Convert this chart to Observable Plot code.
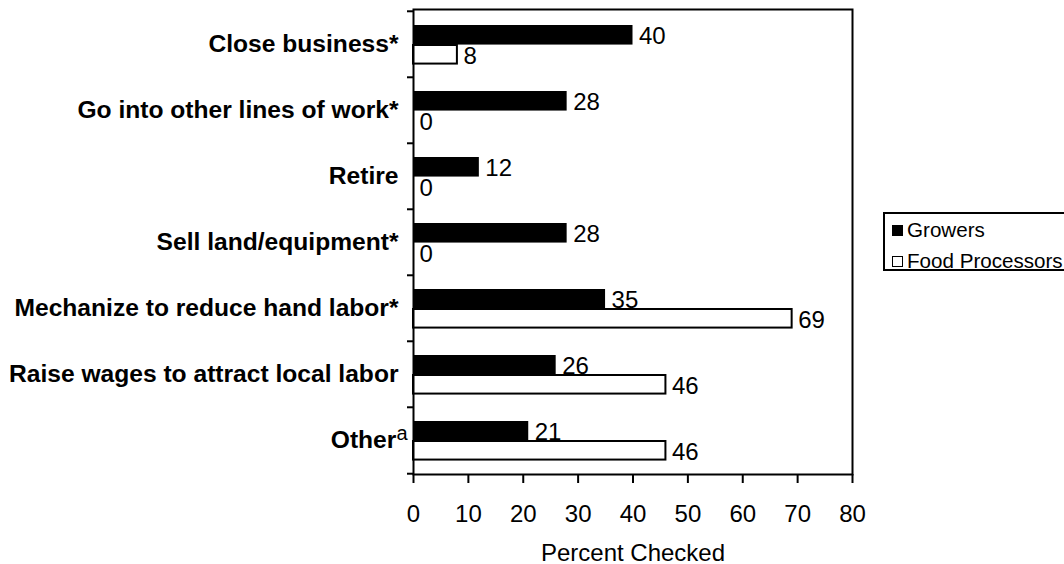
<!DOCTYPE html>
<html>
<head>
<meta charset="utf-8">
<script src="https://cdn.jsdelivr.net/npm/d3@7"></script>
<script src="https://cdn.jsdelivr.net/npm/@observablehq/plot@0.6"></script>
<style>
  html, body { margin: 0; padding: 0; background: #fff; overflow: hidden; }
  #wrap { position: relative; width: 1064px; height: 564px; overflow: hidden; font-family: "Liberation Sans", Arial, sans-serif; }
  #legend { position: absolute; left: 883px; top: 212px; width: 200px; height: 59px; border: 2px solid #000; box-sizing: border-box; background: #fff; }
  .row { position: absolute; left: 0; height: 24px; display: flex; align-items: center; font-size: 20.6px; color: #000; white-space: nowrap; }
  .sw { width: 11px; height: 11px; box-sizing: border-box; border: 1.5px solid #000; margin-left: 7px; margin-right: 4px; }
</style>
</head>
<body>
<div id="wrap">
  <div id="chart"></div>
  <div id="legend"></div>
</div>
<script>
const categories = [
  "Close business*",
  "Go into other lines of work*",
  "Retire",
  "Sell land/equipment*",
  "Mechanize to reduce hand labor*",
  "Raise wages to attract local labor",
  "Other"
];
const growers = [40, 28, 12, 28, 35, 26, 21];
const foodProcessors = [8, 0, 0, 0, 69, 46, 46];
const xTicks = [0, 10, 20, 30, 40, 50, 60, 70, 80];
const seriesNames = ["Growers", "Food Processors"];
const seriesFills = ["#000", "#fff"];

const rows = categories.map((c, i) => ({category: c, growers: growers[i], food: foodProcessors[i]}));

const W = 1064, H = 564, mT = 9, mB = 90, mL = 413, mR = 212;
const bandH = (H - mT - mB) / categories.length;

const chart = Plot.plot({
  width: W,
  height: H,
  marginLeft: mL,
  marginRight: mR,
  marginTop: mT,
  marginBottom: mB,
  style: {fontFamily: "'Liberation Sans', Arial, sans-serif", fontSize: "24px", background: "#fff", color: "#000", overflow: "visible"},
  x: {domain: [0, 80]},
  y: {domain: categories, padding: 0},
  marks: [
    Plot.barX(rows, {x1: 0, x2: "growers", y: "category", fill: seriesFills[0], insetTop: 14, insetBottom: bandH - 34}),
    Plot.text(rows, {x: "growers", y: "category", text: d => String(d.growers), textAnchor: "start", dx: 6, dy: -8, fontSize: 24, fill: "#000"}),
    Plot.barX(rows, {x1: 0, x2: "food", y: "category", fill: seriesFills[1], stroke: "#000", strokeWidth: 2, insetTop: 34, insetBottom: bandH - 53}),
    Plot.text(rows, {x: "food", y: "category", text: d => String(d.food), textAnchor: "start", dx: 6, dy: 12, fontSize: 24, fill: "#000"}),
    Plot.frame({stroke: "#000", strokeWidth: 2}),
    Plot.axisX({ticks: xTicks, tickSize: 9, tickPadding: 21, strokeWidth: 2, fontSize: 24, label: "Percent Checked", labelAnchor: "center", labelArrow: "none", labelOffset: 86}),
    Plot.axisY({tickSize: 0, tickPadding: 15, fontSize: 24.6, fontWeight: "bold", label: null}),
    Plot.axisY({text: null, tickSize: 6, strokeWidth: 2, dy: -bandH / 2, label: null}),
    Plot.axisY([categories[categories.length - 1]], {text: null, tickSize: 6, strokeWidth: 2, dy: bandH / 2, label: null})
  ]
});
document.getElementById("chart").appendChild(chart);

// superscript footnote marker on "Other"
d3.select(chart).selectAll("text").each(function() {
  if (this.textContent === "Other") {
    const t = d3.select(this);
    const tr = t.attr("transform") || "";
    t.attr("transform", tr + " translate(9,0)");
    t.append("tspan").attr("font-weight", "normal").attr("font-size", 20).attr("dy", -8).text("a");
  }
});

// legend
const legend = document.getElementById("legend");
seriesNames.forEach((name, i) => {
  const r = document.createElement("div");
  r.className = "row";
  r.style.top = (4 + i * 31) + "px";
  const sw = document.createElement("div");
  sw.className = "sw";
  sw.style.background = seriesFills[i];
  r.appendChild(sw);
  const tx = document.createElement("span");
  tx.textContent = name;
  r.appendChild(tx);
  legend.appendChild(r);
});
</script>
</body>
</html>
